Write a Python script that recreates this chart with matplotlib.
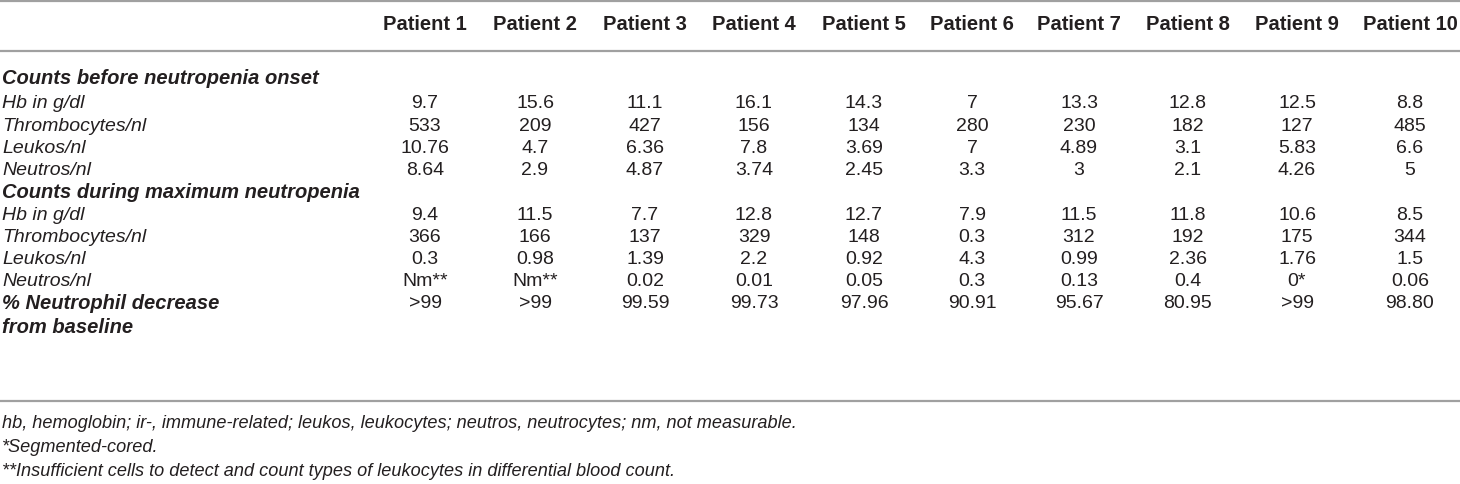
import matplotlib
matplotlib.use("Agg")
import matplotlib.pyplot as plt

plt.rcParams["font.family"] = ["Liberation Sans", "DejaVu Sans"]

patients = ["Patient 1", "Patient 2", "Patient 3", "Patient 4", "Patient 5",
            "Patient 6", "Patient 7", "Patient 8", "Patient 9", "Patient 10"]

row_labels = ["Hb in g/dl", "Thrombocytes/nl", "Leukos/nl", "Neutros/nl"]

before = [
    ["9.7", "15.6", "11.1", "16.1", "14.3", "7", "13.3", "12.8", "12.5", "8.8"],
    ["533", "209", "427", "156", "134", "280", "230", "182", "127", "485"],
    ["10.76", "4.7", "6.36", "7.8", "3.69", "7", "4.89", "3.1", "5.83", "6.6"],
    ["8.64", "2.9", "4.87", "3.74", "2.45", "3.3", "3", "2.1", "4.26", "5"],
]

during = [
    ["9.4", "11.5", "7.7", "12.8", "12.7", "7.9", "11.5", "11.8", "10.6", "8.5"],
    ["366", "166", "137", "329", "148", "0.3", "312", "192", "175", "344"],
    ["0.3", "0.98", "1.39", "2.2", "0.92", "4.3", "0.99", "2.36", "1.76", "1.5"],
    ["Nm**", "Nm**", "0.02", "0.01", "0.05", "0.3", "0.13", "0.4", "0*", "0.06"],
]

decrease = [">99", ">99", "99.59", "99.73", "97.96", "90.91", "95.67", "80.95", ">99", "98.80"]

footnotes = [
    "hb, hemoglobin; ir-, immune-related; leukos, leukocytes; neutros, neutrocytes; nm, not measurable.",
    "*Segmented-cored.",
    "**Insufficient cells to detect and count types of leukocytes in differential blood count.",
]

W, H = 1460, 484
fig = plt.figure(figsize=(W / 100, H / 100), dpi=100)
ax = fig.add_axes([0, 0, 1, 1])
ax.set_xlim(0, W)
ax.set_ylim(H, 0)
ax.axis("off")

col_x = [425, 535, 645, 754, 864, 972, 1079, 1188, 1297, 1410]
fs = 14
fs_bold = 14.5
txt = "#231f20"
line_col = "#a0a0a0"

# rules
ax.plot([0, W], [1, 1], color=line_col, lw=1.6, solid_capstyle="butt")
ax.plot([0, W], [50.5, 50.5], color=line_col, lw=1.6, solid_capstyle="butt")
ax.plot([0, W], [401, 401], color=line_col, lw=1.6, solid_capstyle="butt")

# header
for x, p in zip(col_x, patients):
    ax.text(x, 25, p, ha="center", va="center", fontsize=fs_bold, fontweight="bold", color=txt)

step = 22.2
y = 78
ax.text(2, y, "Counts before neutropenia onset", ha="left", va="center", fontsize=fs_bold,
        fontweight="bold", fontstyle="italic", color=txt)
y = 104
for label, vals in zip(row_labels, before):
    ax.text(2, y, label, ha="left", va="center", fontsize=fs, fontstyle="italic", color=txt)
    for x, v in zip(col_x, vals):
        ax.text(x, y, v, ha="center", va="center", fontsize=fs, color=txt)
    y += step

ax.text(2, y, "Counts during maximum neutropenia", ha="left", va="center", fontsize=fs_bold,
        fontweight="bold", fontstyle="italic", color=txt)
y += step
for label, vals in zip(row_labels, during):
    ax.text(2, y, label, ha="left", va="center", fontsize=fs, fontstyle="italic", color=txt)
    for x, v in zip(col_x, vals):
        ax.text(x, y, v, ha="center", va="center", fontsize=fs, color=txt)
    y += step

ax.text(2, y, "% Neutrophil decrease", ha="left", va="center", fontsize=fs_bold,
        fontweight="bold", fontstyle="italic", color=txt)
ax.text(2, y + 24, "from baseline", ha="left", va="center", fontsize=fs_bold,
        fontweight="bold", fontstyle="italic", color=txt)
for x, v in zip(col_x, decrease):
    ax.text(x, y, v, ha="center", va="center", fontsize=fs, color=txt)

# footnotes
for i, note in enumerate(footnotes):
    ax.text(2, 423 + i * 24, note, ha="left", va="center", fontsize=13.1,
            fontstyle="italic", color=txt)

fig.savefig("out.png", dpi=100)
